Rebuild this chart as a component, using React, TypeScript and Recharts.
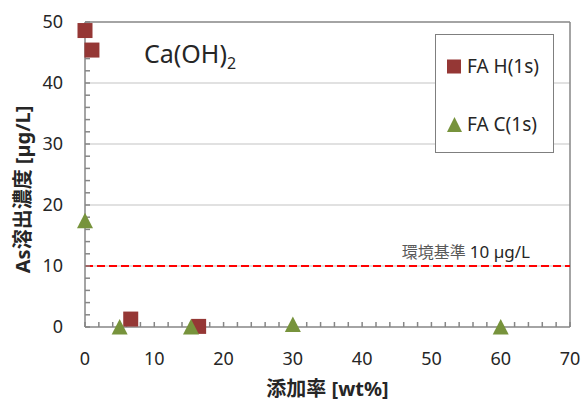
import { Legend, ReferenceLine, Scatter, ScatterChart, XAxis, YAxis } from "recharts";

// 添加率 [wt%] vs As溶出濃度 [µg/L], Ca(OH)2
const faH = [
  { x: 0, y: 48.6 },
  { x: 1, y: 45.4 },
  { x: 6.6, y: 1.3 },
  { x: 16.4, y: 0.1 },
];
const faC = [
  { x: 0, y: 17.4 },
  { x: 5, y: 0 },
  { x: 15.3, y: 0 },
  { x: 30, y: 0.4 },
  { x: 60, y: 0 },
];
const seriesNames = ["FA H(1s)", "FA C(1s)"];

const xTicks = [0, 2, 4, 6, 8, 10, 12, 14, 16, 18, 20, 22, 24, 26, 28, 30, 32, 34, 36, 38, 40, 42, 44, 46, 48, 50, 52, 54, 56, 58, 60, 62, 64, 66, 68, 70];
const yTicks = [0, 2, 4, 6, 8, 10, 12, 14, 16, 18, 20, 22, 24, 26, 28, 30, 32, 34, 36, 38, 40, 42, 44, 46, 48, 50];
const yGrid = [10, 20, 30, 40];
const LIMIT = 10;

const H_COLOR = "#953735";
const C_COLOR = "#77933c";
const AXIS = "#868686";
const GRID = "#c4c4c4";
const FONT = "'Noto Sans', 'Noto Sans CJK JP', sans-serif";

const Square = (p: any) => (
  <rect x={p.cx - 7.5} y={p.cy - 7.5} width={15} height={15} fill={H_COLOR} />
);
const Triangle = (p: any) => (
  <polygon
    points={`${p.cx},${p.cy - 8} ${p.cx + 8},${p.cy + 7.5} ${p.cx - 8},${p.cy + 7.5}`}
    fill={C_COLOR}
  />
);

const majorOnly = (v: number) => (v % 10 === 0 ? String(v) : "");

function LegendBox({ payload }: any) {
  const items = [...(payload || [])].sort(
    (a: any, b: any) => seriesNames.indexOf(a.value) - seriesNames.indexOf(b.value)
  );
  return (
    <div
      style={{
        width: 117,
        height: 117,
        border: "1px solid #7f7f7f",
        background: "#fff",
        fontFamily: FONT,
        fontSize: 19,
        color: "#262626",
        position: "relative",
      }}
    >
      {items.map((e: any, i: number) => (
        <div
          key={e.value}
          style={{
            position: "absolute",
            left: 11,
            top: 18 + i * 58,
            display: "flex",
            alignItems: "center",
            gap: 5,
            whiteSpace: "nowrap",
          }}
        >
          <svg width={15} height={15}>
            {e.type === "triangle" ? (
              <polygon points="7.5,0 15,15 0,15" fill={C_COLOR} />
            ) : (
              <rect width={14} height={14} y={0.5} fill={H_COLOR} />
            )}
          </svg>
          <span>{e.value}</span>
        </div>
      ))}
    </div>
  );
}

export default function App() {
  return (
    <div style={{ position: "absolute", left: 0, top: 0, width: 585, height: 401, background: "#fff" }}>
      <ScatterChart
        width={585}
        height={401}
        margin={{ top: 22, right: 15, bottom: 44, left: 0 }}
        style={{ fontFamily: FONT }}
      >
        <XAxis
          type="number"
          dataKey="x"
          domain={[0, 70]}
          ticks={xTicks}
          interval={0}
          tickFormatter={majorOnly}
          height={30}
          tickSize={-5}
          tickMargin={30}
          stroke={AXIS}
          strokeWidth={1.5}
          tick={{ fill: "#262626", fontSize: 18 }}
          label={{
            content: ({ viewBox }: any) => (
              <text
                x={viewBox.x + viewBox.width / 2}
                y={396}
                textAnchor="middle"
                fontSize={20}
                fontWeight="bold"
                fill="#262626"
              >
                添加率 [wt%]
              </text>
            ),
          }}
        />
        <YAxis
          type="number"
          dataKey="y"
          domain={[0, 50]}
          ticks={yTicks}
          interval={0}
          tickFormatter={majorOnly}
          width={85}
          tickSize={-5}
          tickMargin={27}
          stroke={AXIS}
          strokeWidth={1.5}
          tick={{ fill: "#262626", fontSize: 18 }}
          label={{
            content: ({ viewBox }: any) => {
              const x = 22;
              const y = viewBox.y + viewBox.height / 2 + 15;
              return (
                <text
                  x={x}
                  y={y}
                  transform={`rotate(-90, ${x}, ${y})`}
                  textAnchor="middle"
                  dominantBaseline="central"
                  fontSize={20}
                  fontWeight="bold"
                  fill="#262626"
                >
                  As溶出濃度 [µg/L]
                </text>
              );
            },
          }}
        />
        {yGrid.map((v) => (
          <ReferenceLine key={v} y={v} stroke={GRID} strokeWidth={1.2} />
        ))}
        <ReferenceLine y={50} stroke={AXIS} strokeWidth={1.5} />
        <ReferenceLine x={70} stroke={AXIS} strokeWidth={1.5} />
        <ReferenceLine
          y={LIMIT}
          stroke="#ff0000"
          strokeWidth={2}
          strokeDasharray="8 4"
          label={{
            content: ({ viewBox }: any) => (
              <text x={viewBox.x + viewBox.width - 40} y={viewBox.y - 8} textAnchor="end">
                <tspan fill="#595959" fontSize={16}>環境基準 </tspan>
                <tspan fill="#262626" fontSize={17}>10 µg/L</tspan>
              </text>
            ),
          }}
        />
        <Legend
          layout="vertical"
          align="center"
          verticalAlign="middle"
          content={<LegendBox />}
          wrapperStyle={{ left: 435, top: 34, width: 119, height: 119 }}
        />
        <Scatter name={seriesNames[0]} data={faH} legendType="square" shape={Square} isAnimationActive={false} />
        <Scatter name={seriesNames[1]} data={faC} legendType="triangle" shape={Triangle} isAnimationActive={false} />
      </ScatterChart>
      <svg
        width={585}
        height={401}
        style={{ position: "absolute", left: 0, top: 0, pointerEvents: "none" }}
      >
        <text x={144} y={63} fontFamily={FONT} fontSize={25} fill="#262626">
          Ca(OH)
          <tspan fontSize={16} dy={6}>2</tspan>
        </text>
      </svg>
    </div>
  );
}
